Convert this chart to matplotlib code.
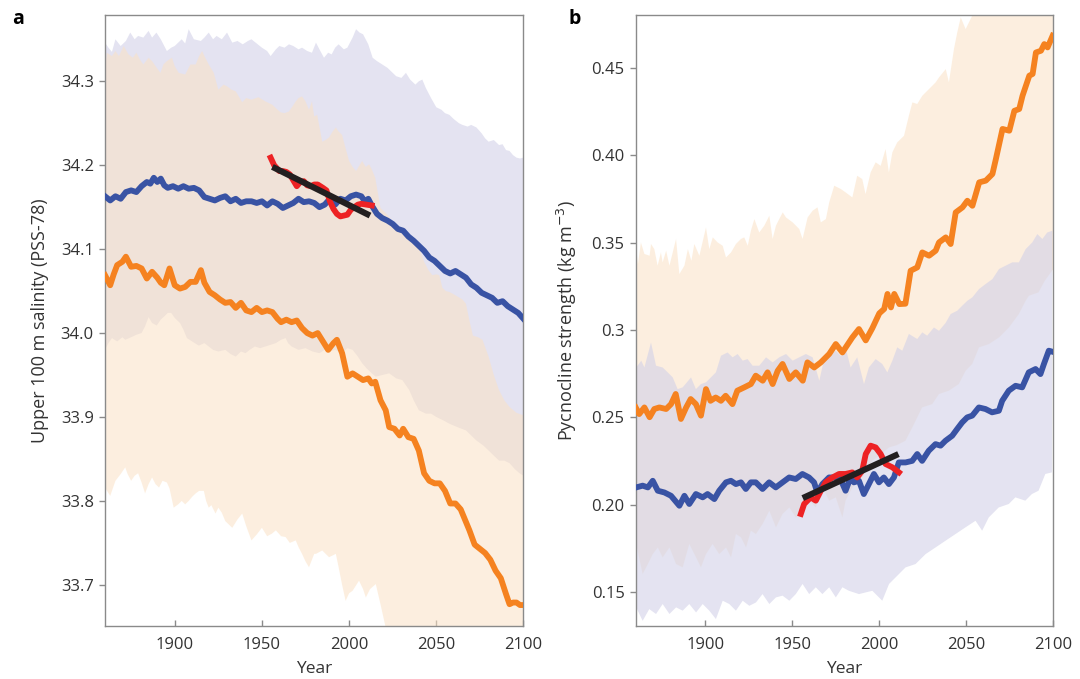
import numpy as np
import matplotlib.pyplot as plt

plt.rcParams['font.family'] = ['Open Sans', 'DejaVu Sans']

# ---------------- panel a: salinity ----------------
a_blue_yr = [1860, 1863, 1866, 1869, 1872, 1875, 1878, 1881, 1884, 1886, 1888, 1890, 1892, 1894,
             1896, 1899, 1902, 1905, 1908, 1911, 1914, 1917, 1920, 1923, 1926, 1929, 1932, 1935,
             1938, 1941, 1944, 1947, 1950, 1953, 1956, 1959, 1962, 1965, 1968, 1971, 1974, 1977,
             1980, 1983, 1986, 1989, 1992, 1995, 1998, 2001, 2004, 2007, 2009, 2011, 2013, 2016,
             2019, 2022, 2025, 2028, 2031, 2034, 2037, 2040, 2043, 2046, 2049, 2052, 2055, 2058,
             2061, 2064, 2067, 2070, 2073, 2076, 2079, 2082, 2085, 2088, 2091, 2094, 2097, 2100]
a_blue = [34.163, 34.158, 34.163, 34.160, 34.168, 34.170, 34.168, 34.175, 34.180, 34.178, 34.185,
          34.180, 34.184, 34.176, 34.173, 34.175, 34.172, 34.175, 34.172, 34.173, 34.170, 34.162,
          34.160, 34.158, 34.161, 34.163, 34.157, 34.160, 34.155, 34.157, 34.157, 34.155, 34.157,
          34.152, 34.157, 34.154, 34.149, 34.152, 34.155, 34.160, 34.156, 34.157, 34.155, 34.150,
          34.153, 34.160, 34.153, 34.160, 34.158, 34.163, 34.165, 34.163, 34.157, 34.160, 34.152,
          34.142, 34.137, 34.134, 34.130, 34.124, 34.122, 34.115, 34.110, 34.104, 34.098, 34.090,
          34.086, 34.080, 34.074, 34.071, 34.074, 34.070, 34.066, 34.058, 34.054, 34.048, 34.045,
          34.042, 34.036, 34.038, 34.032, 34.028, 34.024, 34.017]

a_orange_yr = [1860, 1863, 1865, 1867, 1870, 1872, 1875, 1878, 1881, 1884, 1887, 1890, 1892, 1894,
               1897, 1900, 1903, 1906, 1909, 1912, 1915, 1917, 1920, 1923, 1926, 1929, 1932, 1935,
               1938, 1941, 1944, 1947, 1950, 1953, 1956, 1959, 1961, 1964, 1967, 1970, 1973, 1976,
               1979, 1982, 1985, 1988, 1991, 1993, 1996, 1999, 2002, 2005, 2008, 2011, 2013, 2015,
               2018, 2021, 2023, 2026, 2029, 2031, 2034, 2037, 2040, 2043, 2046, 2049, 2052, 2055,
               2058, 2061, 2064, 2066, 2069, 2072, 2075, 2078, 2081, 2084, 2087, 2090, 2092, 2094,
               2096, 2098, 2100]
a_orange = [34.069, 34.057, 34.070, 34.081, 34.085, 34.091, 34.079, 34.080, 34.077, 34.065, 34.073,
            34.066, 34.060, 34.057, 34.077, 34.057, 34.053, 34.055, 34.061, 34.061, 34.075, 34.060,
            34.049, 34.045, 34.040, 34.036, 34.037, 34.030, 34.036, 34.027, 34.025, 34.030, 34.025,
            34.027, 34.025, 34.017, 34.013, 34.016, 34.013, 34.015, 34.006, 34.000, 33.997, 34.000,
            33.990, 33.980, 33.988, 33.992, 33.976, 33.948, 33.952, 33.948, 33.944, 33.946, 33.940,
            33.942, 33.920, 33.908, 33.888, 33.886, 33.878, 33.886, 33.876, 33.874, 33.860, 33.833,
            33.824, 33.821, 33.821, 33.812, 33.797, 33.797, 33.790, 33.780, 33.765, 33.748, 33.743,
            33.738, 33.730, 33.717, 33.708, 33.689, 33.677, 33.679, 33.679, 33.676, 33.676]

a_obs_yr = [1955, 1957, 1960, 1962, 1964, 1966, 1968, 1970, 1972, 1974, 1976, 1978, 1980, 1982,
            1985, 1987, 1989, 1991, 1993, 1995, 1997, 1999, 2001, 2003, 2005, 2007, 2010, 2013]
a_obs = [34.209, 34.200, 34.193, 34.193, 34.192, 34.189, 34.182, 34.175, 34.180, 34.181, 34.176,
         34.175, 34.177, 34.177, 34.173, 34.170, 34.157, 34.148, 34.142, 34.139, 34.140, 34.141,
         34.147, 34.150, 34.153, 34.154, 34.153, 34.152]
a_trend_yr = [1956, 2012]
a_trend = [34.198, 34.140]

a_bhi_yr = [1860, 1862, 1864, 1866, 1869, 1872, 1874.5, 1877, 1879, 1882, 1885, 1887, 1889.5, 1892,
            1895.5, 1898, 1900, 1904, 1906, 1908, 1911, 1915, 1917, 1919.5, 1922, 1924, 1927, 1930,
            1933, 1936, 1939, 1942, 1944, 1947, 1950, 1953, 1955, 1958, 1960, 1963, 1965.5, 1968,
            1971, 1973, 1976, 1978.7, 1981, 1983, 1985.6, 1988, 1990, 1992, 1994, 1997, 1999, 2002,
            2004, 2006, 2008, 2011, 2013.5, 2016, 2019, 2022, 2025, 2027, 2030, 2032.6, 2035, 2038,
            2040, 2042, 2044, 2047, 2050, 2053, 2055, 2057.5, 2060, 2063, 2065, 2068, 2070, 2073,
            2076, 2078, 2080, 2083, 2086, 2088, 2090, 2092, 2094, 2096, 2098, 2100]
a_bhi = [34.346, 34.340, 34.335, 34.350, 34.342, 34.348, 34.358, 34.350, 34.354, 34.352, 34.360,
         34.352, 34.358, 34.350, 34.336, 34.340, 34.342, 34.350, 34.345, 34.362, 34.350, 34.348,
         34.352, 34.358, 34.350, 34.354, 34.350, 34.358, 34.346, 34.348, 34.344, 34.348, 34.350,
         34.345, 34.340, 34.336, 34.330, 34.338, 34.342, 34.340, 34.344, 34.342, 34.338, 34.340,
         34.336, 34.334, 34.346, 34.338, 34.328, 34.334, 34.332, 34.340, 34.344, 34.338, 34.340,
         34.352, 34.362, 34.358, 34.356, 34.344, 34.328, 34.324, 34.320, 34.316, 34.310, 34.306,
         34.304, 34.310, 34.302, 34.296, 34.300, 34.302, 34.292, 34.280, 34.269, 34.266, 34.262,
         34.260, 34.255, 34.250, 34.248, 34.246, 34.248, 34.245, 34.238, 34.232, 34.228, 34.230,
         34.224, 34.225, 34.218, 34.217, 34.212, 34.209, 34.208, 34.209]

a_blo_yr = [1860, 1862, 1864, 1867, 1870, 1871.6, 1875, 1878, 1881, 1883, 1885, 1887, 1889.7, 1892,
            1894.6, 1896, 1898, 1900, 1903, 1905, 1907, 1910, 1913.8, 1917, 1919.5, 1922, 1925, 1929,
            1932, 1935, 1938, 1940.6, 1943, 1946, 1949, 1952, 1955, 1958, 1961, 1963.6, 1965, 1967,
            1971, 1975, 1979, 1983, 1986, 1988.5, 1992, 1996, 1999, 2002, 2005, 2007.5, 2010, 2013,
            2015.3, 2019, 2023, 2027, 2030.5, 2034.5, 2037, 2040, 2044, 2047, 2050, 2054, 2057.5,
            2062, 2067, 2070, 2073, 2077, 2080, 2083, 2086, 2089, 2092, 2095, 2097.7, 2100]
a_blo = [33.980, 33.988, 33.994, 33.990, 33.995, 33.992, 33.995, 33.998, 34.000, 34.008, 34.019,
         34.012, 34.009, 34.016, 34.021, 34.024, 34.024, 34.018, 34.012, 34.004, 33.994, 33.990,
         33.985, 33.988, 33.984, 33.980, 33.978, 33.980, 33.975, 33.972, 33.978, 33.976, 33.980,
         33.984, 33.982, 33.984, 33.986, 33.988, 33.992, 33.994, 33.988, 33.984, 33.980, 33.982,
         33.978, 33.976, 33.980, 33.978, 33.980, 33.976, 33.982, 33.980, 33.972, 33.964, 33.958,
         33.952, 33.948, 33.950, 33.952, 33.946, 33.944, 33.932, 33.920, 33.908, 33.904, 33.904,
         33.900, 33.896, 33.892, 33.888, 33.884, 33.878, 33.872, 33.866, 33.860, 33.854, 33.848,
         33.848, 33.845, 33.838, 33.833, 33.830]

a_ohi_yr = [1860, 1861, 1864, 1866, 1868, 1870.7, 1873.5, 1876, 1878, 1880, 1882, 1885, 1887, 1889,
            1891.8, 1893.5, 1895.5, 1898.4, 1900, 1902.3, 1906, 1909, 1912, 1914, 1915.7, 1917.5,
            1919.5, 1922.4, 1925, 1928, 1930, 1932.5, 1935, 1938.7, 1941, 1944, 1948, 1952, 1956,
            1958, 1960.7, 1963, 1965.5, 1967.5, 1969.4, 1971, 1973, 1975, 1977, 1978.7, 1980,
            1981.7, 1984.6, 1986.5, 1988.5, 1990.5, 1992.4, 1994, 1996, 1998, 2000, 2002, 2004,
            2006, 2007.5, 2009.5, 2011.5, 2013, 2015, 2018, 2020, 2022, 2025, 2027, 2030, 2032.6,
            2035, 2038, 2040.5, 2043, 2045.5, 2047.7, 2050, 2051.7, 2053.5, 2055.5, 2057.5, 2061,
            2065, 2067, 2069, 2071, 2074, 2076.5, 2080, 2083, 2086, 2089, 2092, 2096, 2100]
a_ohi = [34.310, 34.334, 34.330, 34.336, 34.330, 34.342, 34.332, 34.328, 34.334, 34.326, 34.320,
         34.328, 34.324, 34.318, 34.310, 34.320, 34.324, 34.328, 34.318, 34.310, 34.308, 34.320,
         34.320, 34.330, 34.336, 34.328, 34.320, 34.310, 34.290, 34.296, 34.294, 34.290, 34.288,
         34.275, 34.280, 34.278, 34.281, 34.276, 34.272, 34.268, 34.263, 34.262, 34.264, 34.270,
         34.276, 34.280, 34.282, 34.276, 34.266, 34.276, 34.258, 34.260, 34.228, 34.230, 34.233,
         34.240, 34.245, 34.240, 34.236, 34.220, 34.205, 34.198, 34.193, 34.200, 34.205, 34.198,
         34.201, 34.195, 34.185, 34.149, 34.145, 34.141, 34.133, 34.125, 34.120, 34.117, 34.112,
         34.109, 34.100, 34.085, 34.075, 34.069, 34.070, 34.069, 34.054, 34.050, 34.049, 34.045,
         34.040, 34.035, 34.015, 33.997, 33.995, 33.992, 33.972, 33.950, 33.932, 33.920, 33.912,
         33.905, 33.902]

a_olo_yr = [1860, 1863, 1866, 1869, 1871.6, 1873, 1875, 1877, 1879, 1881, 1883, 1885, 1887, 1889,
            1891, 1893, 1895.5, 1897, 1899.4, 1902, 1904, 1906, 1908, 1910, 1912, 1914, 1916.7, 1918,
            1919.5, 1921, 1923.4, 1925, 1927, 1929, 1931, 1933, 1936, 1938.7, 1941, 1944, 1947, 1950,
            1953, 1955.7, 1958, 1961, 1963.6, 1966, 1969.4, 1971, 1973, 1975, 1977, 1980, 1981,
            1984.6, 1988.5, 1992.4, 1994, 1996, 1998, 2000, 2002, 2005.7, 2008, 2009.6, 2012,
            2015.3, 2018, 2021, 2024, 2030, 2040, 2060, 2080, 2100]
a_olo = [33.816, 33.806, 33.824, 33.832, 33.840, 33.832, 33.824, 33.830, 33.833, 33.822, 33.809,
         33.820, 33.828, 33.820, 33.816, 33.824, 33.822, 33.815, 33.792, 33.796, 33.800, 33.796,
         33.800, 33.805, 33.809, 33.812, 33.812, 33.800, 33.792, 33.795, 33.785, 33.792, 33.786,
         33.776, 33.772, 33.768, 33.778, 33.785, 33.770, 33.753, 33.760, 33.768, 33.758, 33.761,
         33.765, 33.758, 33.757, 33.750, 33.753, 33.745, 33.737, 33.728, 33.721, 33.737, 33.737,
         33.741, 33.733, 33.737, 33.721, 33.700, 33.681, 33.690, 33.693, 33.705, 33.695, 33.685,
         33.695, 33.701, 33.677, 33.649, 33.620, 33.580, 33.540, 33.480, 33.420, 33.380]

# ---------------- panel b: pycnocline strength ----------------
b_orange_yr = [1860, 1862, 1865, 1868, 1870.7, 1873.6, 1877.5, 1880.3, 1883, 1886, 1889, 1891.6,
               1894.6, 1897.5, 1900.4, 1903, 1906, 1909, 1911.7, 1915.6, 1918.4, 1922.4, 1926.2,
               1929, 1933, 1935.8, 1938.7, 1941.6, 1944.4, 1948.3, 1952, 1956, 1958.7, 1962.6,
               1966.4, 1971.2, 1975, 1978.8, 1980.7, 1984.5, 1988.3, 1992.2, 1996, 2000, 2002.8,
               2004.7, 2006.7, 2008.6, 2011.5, 2015, 2018, 2021.8, 2024.7, 2028.6, 2032.4, 2034.3,
               2038.2, 2041, 2043.9, 2047.8, 2050.6, 2053.5, 2057.4, 2061.2, 2065, 2067, 2068.9,
               2070.8, 2074.7, 2077.6, 2080.4, 2082.3, 2086.2, 2088.1, 2090, 2092.9, 2094.8, 2096.7,
               2099.6]
b_orange = [0.2556, 0.2518, 0.2556, 0.2500, 0.2547, 0.2556, 0.2547, 0.2575, 0.2633, 0.2490, 0.2556,
            0.2604, 0.2575, 0.2509, 0.2661, 0.2594, 0.2613, 0.2594, 0.2623, 0.2575, 0.2652, 0.2671,
            0.2690, 0.2738, 0.2709, 0.2757, 0.2690, 0.2766, 0.2805, 0.2719, 0.2757, 0.2709, 0.2814,
            0.2785, 0.2814, 0.2862, 0.2919, 0.2871, 0.2900, 0.2957, 0.3005, 0.2940, 0.3010, 0.3095,
            0.3120, 0.3206, 0.3129, 0.3206, 0.3148, 0.3150, 0.3339, 0.3358, 0.3444, 0.3425, 0.3454,
            0.3501, 0.3530, 0.3492, 0.3673, 0.3702, 0.3740, 0.3711, 0.3845, 0.3855, 0.3893, 0.3979,
            0.4065, 0.4151, 0.4141, 0.4255, 0.4265, 0.4341, 0.4456, 0.4466, 0.4589, 0.4599, 0.4637,
            0.4618, 0.4685]

b_blue_yr = [1860.3, 1864, 1867, 1869.8, 1872.7, 1876.5, 1880.3, 1885.1, 1888, 1890.8, 1894.6,
             1898.5, 1901.3, 1905.2, 1908, 1911.9, 1914.7, 1917.6, 1920.5, 1923.3, 1926.2, 1929,
             1932.9, 1936.7, 1940.5, 1944.4, 1948.2, 1952, 1955.8, 1959.6, 1962.5, 1964.4, 1967.3,
             1971.1, 1974.9, 1977.5, 1980.6, 1983.5, 1985.4, 1988.3, 1991.1, 1994, 1996.9, 1999.8,
             2002.6, 2005.5, 2008.4, 2011.2, 2015.1, 2018.9, 2021.8, 2024.6, 2028.4, 2032.3, 2035.2,
             2038, 2041.9, 2044.7, 2047.6, 2050.5, 2053.4, 2057.2, 2061, 2064.8, 2068.7, 2070.6,
             2074.4, 2078.3, 2082.1, 2085.9, 2089.8, 2092.6, 2094.6, 2097.4, 2099.5]
b_blue = [0.2098, 0.2108, 0.2098, 0.2136, 0.2079, 0.2069, 0.2050, 0.1993, 0.2050, 0.2003, 0.2060,
          0.2041, 0.2060, 0.2031, 0.2079, 0.2127, 0.2136, 0.2117, 0.2127, 0.2089, 0.2127, 0.2127,
          0.2089, 0.2127, 0.2098, 0.2127, 0.2155, 0.2146, 0.2175, 0.2155, 0.2127, 0.2069, 0.2117,
          0.2155, 0.2155, 0.2150, 0.2079, 0.2155, 0.2127, 0.2136, 0.2060, 0.2117, 0.2175, 0.2127,
          0.2155, 0.2117, 0.2155, 0.2241, 0.2241, 0.2250, 0.2289, 0.2250, 0.2308, 0.2346, 0.2337,
          0.2365, 0.2394, 0.2432, 0.2470, 0.2499, 0.2509, 0.2556, 0.2547, 0.2528, 0.2537, 0.2594,
          0.2652, 0.2680, 0.2671, 0.2757, 0.2776, 0.2747, 0.2805, 0.2881, 0.2875]

b_obs_yr = [1954.9, 1956.8, 1960.6, 1963.5, 1966.4, 1969.2, 1973.1, 1976.9, 1980.6, 1984.5, 1987.3,
            1990.2, 1992.2, 1995, 1997.9, 2000.8, 2003.6, 2007.5, 2011.3]
b_obs = [0.1946, 0.2003, 0.2041, 0.2022, 0.2079, 0.2127, 0.2155, 0.2175, 0.2175, 0.2184, 0.2155,
         0.2194, 0.2289, 0.2337, 0.2327, 0.2289, 0.2232, 0.2213, 0.2184]
b_trend_yr = [1956, 2011]
b_trend = [0.2037, 0.2289]

b_ohi_yr = [1860, 1861.3, 1863, 1865, 1868, 1868.8, 1870.7, 1872.6, 1874.5, 1875.5, 1877.5, 1879.4,
            1883.2, 1885.1, 1888, 1890, 1892, 1893.7, 1896.6, 1900.4, 1902.3, 1904.3, 1907.1, 1910,
            1911.9, 1914.8, 1917.6, 1920.5, 1922.4, 1924.4, 1926.2, 1928.2, 1931, 1933.9, 1936.8,
            1938.7, 1940.6, 1942.5, 1944.5, 1946.4, 1950.2, 1954, 1955.9, 1958.8, 1961.7, 1964.5,
            1966.4, 1969.3, 1971.2, 1974.1, 1977.9, 1980.6, 1984.5, 1987.3, 1990.2, 1992.1, 1995,
            1997.9, 2000.8, 2003.6, 2005.5, 2007.5, 2010.3, 2014.2, 2017, 2019, 2021.8, 2024.7,
            2028.6, 2032.4, 2034.3, 2038.2, 2040, 2042.9, 2044.8, 2046.8, 2049.6, 2051.5, 2053.4,
            2060, 2070, 2080, 2090, 2100]
b_ohi = [0.3501, 0.3377, 0.3501, 0.3435, 0.3425, 0.3492, 0.3463, 0.3368, 0.3444, 0.3387, 0.3454,
         0.3368, 0.3521, 0.3320, 0.3368, 0.3463, 0.3396, 0.3492, 0.3425, 0.3587, 0.3463, 0.3530,
         0.3501, 0.3482, 0.3415, 0.3444, 0.3492, 0.3521, 0.3530, 0.3482, 0.3568, 0.3635, 0.3558,
         0.3597, 0.3654, 0.3521, 0.3597, 0.3635, 0.3673, 0.3644, 0.3616, 0.3578, 0.3521, 0.3644,
         0.3683, 0.3702, 0.3616, 0.3635, 0.3730, 0.3826, 0.3807, 0.3788, 0.3759, 0.3883, 0.3864,
         0.3778, 0.3902, 0.3960, 0.3940, 0.4036, 0.3902, 0.4017, 0.4074, 0.4112, 0.4227, 0.4303,
         0.4294, 0.4341, 0.4380, 0.4418, 0.4446, 0.4494, 0.4418, 0.4609, 0.4704, 0.4790, 0.4723,
         0.4761, 0.4800, 0.4900, 0.5000, 0.5100, 0.5200, 0.5300]

b_bhi_yr = [1860.3, 1863.2, 1865, 1868.8, 1871.7, 1875.5, 1878.4, 1881.3, 1884.1, 1887, 1891.8,
            1894.6, 1897.5, 1900.4, 1903.2, 1906.1, 1909, 1912.8, 1915.7, 1918.6, 1921.5, 1924.3,
            1927.2, 1931, 1934.9, 1938.7, 1942.5, 1946.4, 1950.2, 1954, 1957.8, 1961.7, 1965.5,
            1968.3, 1971.2, 1975, 1978, 1980.6, 1983.5, 1987.3, 1991.2, 1994, 1997.9, 2001.7,
            2004.6, 2007.5, 2010.3, 2013.2, 2017, 2021.8, 2024.7, 2027.5, 2031.4, 2034.3, 2038.1,
            2041, 2044.8, 2047.7, 2050.6, 2053.4, 2057.3, 2061.1, 2065, 2068.8, 2072.6, 2076.4,
            2080.2, 2084.1, 2087.9, 2090.8, 2093.7, 2096.5, 2099.4]
b_bhi = [0.2785, 0.2824, 0.2785, 0.2928, 0.2795, 0.2785, 0.2757, 0.2728, 0.2661, 0.2671, 0.2728,
         0.2661, 0.2690, 0.2700, 0.2728, 0.2757, 0.2852, 0.2871, 0.2843, 0.2862, 0.2824, 0.2833,
         0.2795, 0.2795, 0.2843, 0.2814, 0.2843, 0.2862, 0.2824, 0.2843, 0.2862, 0.2843, 0.2709,
         0.2833, 0.2852, 0.2881, 0.2850, 0.2900, 0.2785, 0.2843, 0.2690, 0.2785, 0.2833, 0.2805,
         0.2757, 0.2824, 0.2900, 0.2881, 0.2977, 0.2948, 0.2986, 0.2967, 0.3014, 0.2995, 0.3040,
         0.3091, 0.3110, 0.3139, 0.3167, 0.3186, 0.3234, 0.3263, 0.3291, 0.3349, 0.3368, 0.3387,
         0.3387, 0.3463, 0.3501, 0.3549, 0.3521, 0.3558, 0.3568]

b_olo_yr = [1860.3, 1864, 1867, 1869.8, 1872.7, 1875.5, 1879.4, 1883.2, 1887, 1890.8, 1894.7,
            1897.5, 1900.4, 1904.2, 1908, 1911.9, 1914.8, 1917.6, 1920.5, 1923.4, 1926.2, 1929.1,
            1932.9, 1936.8, 1940.6, 1944.4, 1948.3, 1952, 1955.9, 1959.7, 1963.5, 1967.3, 1971.2,
            1975, 1978.8, 1980.6, 1984.5, 1990, 1996, 2000, 2005.6, 2010, 2015, 2019, 2024.6,
            2030.4, 2034.3, 2040, 2045.7, 2049.6, 2053.4, 2057.3, 2063, 2068.8, 2074.5, 2080.2,
            2084.1, 2086, 2091.5, 2095, 2100]
b_olo = [0.1774, 0.1602, 0.1659, 0.1716, 0.1754, 0.1697, 0.1754, 0.1659, 0.1640, 0.1774, 0.1697,
         0.1640, 0.1716, 0.1774, 0.1716, 0.1754, 0.1697, 0.1831, 0.1812, 0.1754, 0.1850, 0.1831,
         0.1888, 0.1964, 0.1869, 0.1946, 0.1983, 0.1926, 0.1946, 0.2022, 0.1983, 0.2098, 0.2022,
         0.2041, 0.1926, 0.2022, 0.2098, 0.2150, 0.2251, 0.2280, 0.2327, 0.2340, 0.2365, 0.2442,
         0.2556, 0.2575, 0.2633, 0.2652, 0.2690, 0.2766, 0.2805, 0.2900, 0.2919, 0.2957, 0.3014,
         0.3091, 0.3167, 0.3196, 0.3215, 0.3280, 0.3349]

b_blo_yr = [1860.3, 1864, 1867.8, 1871.7, 1875.5, 1879.4, 1883.2, 1887, 1890.8, 1894.7, 1898.5,
            1902.3, 1906.1, 1910, 1913.8, 1917.6, 1921.5, 1925.3, 1929.1, 1932.9, 1936.8, 1940.6,
            1944.4, 1948.3, 1952, 1955.9, 1959.7, 1963.5, 1967.3, 1971.2, 1975, 1978.8, 1982.5,
            1988.3, 1996, 2001.7, 2005.6, 2011.3, 2015.1, 2020.8, 2026.6, 2032.3, 2038.1, 2043.8,
            2049.5, 2055.3, 2059.1, 2062.9, 2068.6, 2074.4, 2078.2, 2083.9, 2087.7, 2091.5, 2095.4,
            2099.2]
b_blo = [0.1411, 0.1334, 0.1401, 0.1373, 0.1430, 0.1373, 0.1411, 0.1392, 0.1430, 0.1382, 0.1430,
         0.1392, 0.1344, 0.1449, 0.1430, 0.1392, 0.1449, 0.1420, 0.1439, 0.1487, 0.1430, 0.1468,
         0.1478, 0.1449, 0.1487, 0.1545, 0.1487, 0.1526, 0.1487, 0.1526, 0.1468, 0.1526, 0.1506,
         0.1487, 0.1506, 0.1449, 0.1545, 0.1602, 0.1640, 0.1659, 0.1716, 0.1754, 0.1793, 0.1831,
         0.1869, 0.1907, 0.1850, 0.1926, 0.1983, 0.2003, 0.2041, 0.2022, 0.2060, 0.2079, 0.2175,
         0.2184]

c_blue = '#3953a4'
c_orange = '#f58220'
c_red = '#ed2224'
c_black = '#231f20'
fill_blue = '#d2d1e8'
fill_orange = '#fbe2c6'
spine_c = '#8a8a8a'
txt_c = '#333333'


def band(ax, hi_yr, hi, lo_yr, lo, color, alpha, z):
    # closed polygon: upper edge left->right, lower edge right->left
    xs = list(hi_yr) + list(lo_yr)[::-1]
    ys = list(hi) + list(lo)[::-1]
    ax.fill(xs, ys, color=color, alpha=alpha, lw=0, zorder=z)


fig = plt.figure(figsize=(10.8, 6.79), dpi=100)
axa = fig.add_axes([0.0972, 0.078, 0.3875, 0.9])
axb = fig.add_axes([0.5886, 0.078, 0.3867, 0.9])

LW = 4.2

# panel a: blue band under orange band
band(axa, a_bhi_yr, a_bhi, a_blo_yr, a_blo, fill_blue, 0.6, 1)
band(axa, a_ohi_yr, a_ohi, a_olo_yr, a_olo, fill_orange, 0.56, 2)
axa.plot(a_orange_yr, a_orange, color=c_orange, lw=LW, zorder=3, solid_joinstyle='round')
axa.plot(a_blue_yr, a_blue, color=c_blue, lw=LW, zorder=4, solid_joinstyle='round')
axa.plot(a_obs_yr, a_obs, color=c_red, lw=LW, zorder=5, solid_joinstyle='round')
axa.plot(a_trend_yr, a_trend, color=c_black, lw=4.4, zorder=6, solid_capstyle='butt')
axa.set_ylim(33.651, 34.379)
axa.set_yticks([33.7, 33.8, 33.9, 34.0, 34.1, 34.2, 34.3])
axa.set_yticklabels(['33.7', '33.8', '33.9', '34.0', '34.1', '34.2', '34.3'])
axa.set_ylabel('Upper 100 m salinity (PSS-78)', fontsize=13, color=txt_c)
axa.yaxis.set_label_coords(-0.133, 0.5)

# panel b: orange band under blue band
band(axb, b_ohi_yr, b_ohi, b_olo_yr, b_olo, fill_orange, 0.56, 1)
band(axb, b_bhi_yr, b_bhi, b_blo_yr, b_blo, fill_blue, 0.6, 2)
axb.plot(b_orange_yr, b_orange, color=c_orange, lw=LW, zorder=3, solid_joinstyle='round')
axb.plot(b_blue_yr, b_blue, color=c_blue, lw=LW, zorder=4, solid_joinstyle='round')
axb.plot(b_obs_yr, b_obs, color=c_red, lw=LW, zorder=5, solid_joinstyle='round')
axb.plot(b_trend_yr, b_trend, color=c_black, lw=4.4, zorder=6, solid_capstyle='butt')
axb.set_ylim(0.1304, 0.4804)
axb.set_yticks([0.15, 0.20, 0.25, 0.30, 0.35, 0.40, 0.45])
axb.set_yticklabels(['0.15', '0.20', '0.25', '0.3', '0.35', '0.40', '0.45'])
axb.set_ylabel('Pycnocline strength (kg m$^{-3}$)', fontsize=13, color=txt_c)
axb.yaxis.set_label_coords(-0.136, 0.5)

for ax in (axa, axb):
    ax.set_xlim(1860, 2100)
    ax.set_xticks([1900, 1950, 2000, 2050, 2100])
    ax.set_xlabel('Year', fontsize=12.5, color=txt_c, labelpad=6)
    for s in ax.spines.values():
        s.set_color(spine_c)
        s.set_linewidth(1.0)
    ax.tick_params(axis='y', direction='out', length=4, width=1, color=spine_c,
                   labelsize=12, labelcolor=txt_c, pad=4)
    ax.tick_params(axis='x', direction='in', length=4, width=1, color=spine_c,
                   labelsize=12, labelcolor=txt_c, pad=8)

fig.text(0.011, 0.972, 'a', fontsize=14, fontweight='bold', va='center')
fig.text(0.526, 0.972, 'b', fontsize=14, fontweight='bold', va='center')

fig.savefig('out.png', dpi=100)
